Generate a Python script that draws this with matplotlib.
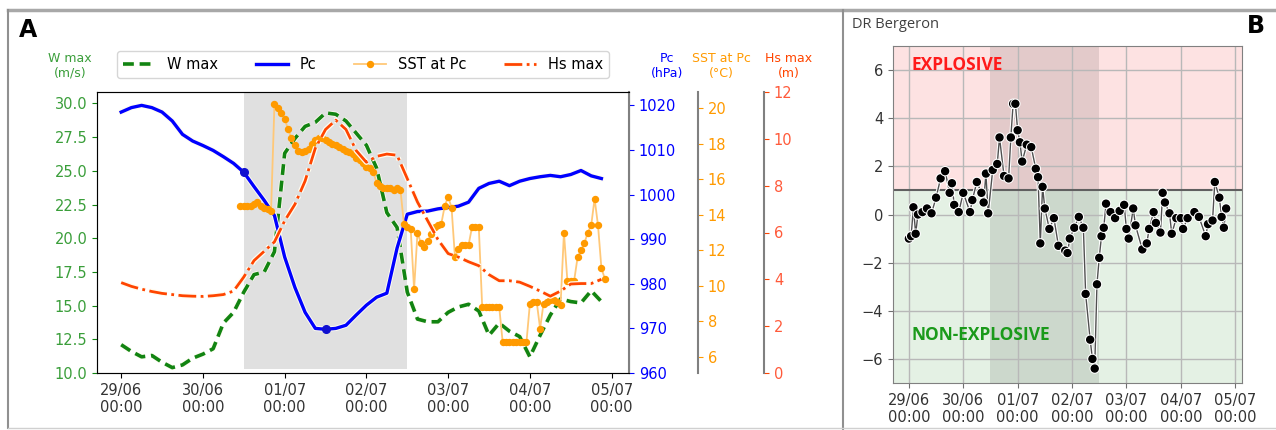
import numpy as np
import pandas as pd
import matplotlib
matplotlib.use("Agg")
import matplotlib.pyplot as plt
import matplotlib.dates as mdates
import matplotlib.patheffects as pe
from matplotlib.lines import Line2D

t0 = pd.Timestamp("2021-06-29 00:00")

# panel A: 3-hourly series, hours since 29/06 00:00
hours_3h = np.arange(0, 142, 3)
w_max = [12.1, 11.6, 11.2, 11.3, 10.8, 10.4, 10.6, 11.1, 11.4, 11.8,
         13.7, 14.5, 16.0, 17.3, 17.5, 19.0, 26.3, 27.4, 28.3, 28.6,
         29.3, 29.2, 28.7, 27.8, 26.9, 25.2, 21.9, 20.8, 16.0, 14.0,
         13.8, 13.8, 14.5, 14.9, 15.1, 14.6, 12.8, 13.7, 13.1, 12.7,
         11.2, 12.8, 14.3, 15.5, 15.3, 15.2, 16.1, 15.3]
pc = [1018.5, 1019.5, 1020.0, 1019.5, 1018.5, 1016.5, 1013.5, 1012.0, 1011.0, 1009.9,
      1008.5, 1007.0, 1005.0, 1001.8, 998.7, 995.3, 986.0, 979.2, 973.6, 970.0,
      969.8, 970.0, 970.7, 973.0, 975.2, 977.0, 977.9, 988.0, 995.6, 996.2,
      996.3, 996.8, 997.1, 997.4, 998.3, 1001.4, 1002.5, 1003.0, 1002.0, 1003.0,
      1003.6, 1004.0, 1004.3, 1004.0, 1004.5, 1005.4, 1004.2, 1003.6]
hs_max = [3.86, 3.7, 3.58, 3.48, 3.4, 3.35, 3.3, 3.28, 3.27, 3.3,
          3.35, 3.5, 4.1, 4.8, 5.2, 5.6, 6.5, 7.2, 8.2, 9.6,
          10.4, 10.8, 10.4, 9.5, 9.0, 9.25, 9.35, 9.3, 8.3, 7.3,
          6.5, 5.7, 5.1, 4.95, 4.75, 4.58, 4.2, 3.94, 3.94, 3.88,
          3.7, 3.5, 3.28, 3.5, 3.8, 3.82, 3.82, 4.0]
pc_marked = [12, 20]  # indices of the highlighted Pc points

# SST at Pc, hourly from hour 35 to 142
hours_sst = np.arange(35, 143)
sst = [14.5, 14.5, 14.5, 14.5, 14.6, 14.7, 14.5, 14.4, 14.3, 14.2,
       20.2, 20.0, 19.7, 19.4, 18.8, 18.3, 17.9, 17.6, 17.5, 17.6,
       17.7, 18.0, 18.2, 18.3, 18.3, 18.2, 18.1, 18.0, 17.9, 17.8,
       17.7, 17.6, 17.5, 17.4, 17.2, 17.1, 16.9, 16.7, 16.6, 16.4,
       15.8, 15.6, 15.5, 15.5, 15.5, 15.4, 15.5, 15.4, 13.5, 13.3,
       13.2, 9.8, 13.0, 12.4, 12.2, 12.5, 12.9, 13.3, 13.4, 13.5,
       14.5, 15.0, 14.4, 11.6, 12.1, 12.3, 12.3, 12.3, 13.3, 13.3,
       13.3, 8.8, 8.8, 8.8, 8.8, 8.8, 8.8, 6.85, 6.85, 6.85,
       6.85, 6.85, 6.85, 6.85, 6.85, 9.0, 9.1, 9.1, 7.6, 9.0,
       9.1, 9.2, 9.2, 9.1, 8.9, 13.0, 10.3, 10.3, 10.3, 11.6,
       12.0, 12.4, 13.0, 13.4, 14.9, 13.4, 11.0, 10.4]

# panel B: DR Bergeron
hours_dr = [0, 1, 2, 3, 4, 6, 8, 10, 12, 14, 16, 18, 19, 20, 22, 24, 27, 28, 30, 32,
            33, 34, 35, 37, 39, 40, 42, 44, 45, 46, 47, 48, 49, 50, 52, 54, 56, 57, 58, 59,
            60, 62, 64, 66, 69, 70, 71, 73, 75, 77, 78, 80, 81, 82, 83, 84, 85, 86, 87, 89,
            91, 93, 95, 96, 97, 99, 100, 103, 105, 106, 108, 109, 111, 112, 113, 115, 116, 118, 120, 121,
            123, 126, 128, 131, 132, 134, 135, 137, 138, 139, 140]
dr = [-1.0, -0.9, 0.3, -0.8, 0.0, 0.1, 0.25, 0.05, 0.7, 1.5, 1.8, 0.9, 1.3, 0.4, 0.1, 0.9, 0.1, 0.6, 1.35, 0.9,
      0.5, 1.7, 0.05, 1.85, 2.1, 3.2, 1.6, 1.5, 3.2, 4.6, 4.6, 3.5, 3.0, 2.2, 2.9, 2.8, 1.9, 1.55, -1.2, 1.15,
      0.25, -0.6, -0.15, -1.3, -1.5, -1.6, -1.0, -0.55, -0.1, -0.55, -3.3, -5.2, -6.0, -6.4, -2.9, -1.8, -0.9, -0.55, 0.45, 0.1,
      -0.15, 0.15, 0.4, -0.6, -1.0, 0.25, -0.45, -1.45, -1.2, -0.6, 0.1, -0.35, -0.75, 0.9, 0.5, 0.05, -0.8, -0.15, -0.15, -0.6,
      -0.15, 0.1, -0.1, -0.9, -0.4, -0.25, 1.35, 0.7, -0.1, -0.55, 0.25]

t3 = t0 + pd.to_timedelta(hours_3h, unit="h")
ts = t0 + pd.to_timedelta(hours_sst, unit="h")
tb = t0 + pd.to_timedelta(hours_dr, unit="h")
span0 = t0 + pd.Timedelta(hours=36)
span1 = t0 + pd.Timedelta(hours=84)

W, H = 1276, 430
fig = plt.figure(figsize=(W / 100, H / 100), dpi=100)

c_w = "#128412"
c_w_txt = "#3a9e3a"
c_pc = "#0000ff"
c_sst = "#ff9a00"
c_hs = "#ff4500"
halo = [pe.withStroke(linewidth=3.8, foreground="#fffdf0")]

# ---------- panel A ----------
ax = fig.add_axes([97 / W, 1 - 373 / H, 532 / W, 281 / H])
ax2 = ax.twinx()
ax3 = ax.twinx()
ax4 = ax.twinx()

ax.axvspan(span0, span1, ymin=0.015, color="#e0e0e0", zorder=0, lw=0)

l_w, = ax.plot(t3, w_max, color=c_w, lw=2.6, ls=(0, (3, 1.6)), path_effects=halo, label="W max")
l_pc, = ax2.plot(t3, pc, color=c_pc, lw=2.4, path_effects=halo, label="Pc")
ax2.plot(t3[pc_marked], np.array(pc)[pc_marked], ls="none", marker="o", ms=5.5, color="#1010d0")
l_sst, = ax3.plot(ts, sst, color="#ffc878", lw=1.3, marker="o", ms=4.3,
                  mfc=c_sst, mec=c_sst, label="SST at Pc")
l_hs, = ax4.plot(t3, hs_max, color=c_hs, lw=2, ls="-.", path_effects=halo, label="Hs max")

ax.set_ylim(10, 30.85)
ax.set_yticks(np.arange(10, 30.1, 2.5))
ax.yaxis.set_major_formatter(matplotlib.ticker.FormatStrFormatter("%.1f"))
ax2.set_ylim(960, 1023)
ax2.set_yticks(np.arange(960, 1021, 10))
ax3.set_ylim(5.1, 20.9)
ax3.set_yticks(np.arange(6, 21, 2))
ax4.set_ylim(0, 12)
ax4.set_yticks(np.arange(0, 13, 2))

for a, off in ((ax3, 1.13), (ax4, 1.254)):
    a.spines["right"].set_position(("axes", off))
    for s in ("top", "left", "bottom"):
        a.spines[s].set_visible(False)
    a.patch.set_visible(False)

for s in ax.spines.values():
    s.set_color("#707070")
for a in (ax2, ax3, ax4):
    a.spines["right"].set_color("#808080")
    a.spines["right"].set_linewidth(1.5)

ax.tick_params(axis="y", colors=c_w, labelcolor=c_w_txt, labelsize=10.5)
ax2.tick_params(axis="y", colors=c_pc, labelcolor=c_pc, labelsize=10.5)
ax3.tick_params(axis="y", colors=c_sst, labelcolor=c_sst, labelsize=10.5)
ax4.tick_params(axis="y", colors=c_hs, labelcolor="#ff5a3a", labelsize=10.5)
ax.tick_params(axis="x", labelsize=10.5, labelcolor="#333333")

ax.xaxis.set_major_locator(mdates.DayLocator())
ax.xaxis.set_major_formatter(mdates.DateFormatter("%d/%m\n%H:%M"))

ax4.legend([l_w, l_pc, l_sst, l_hs], ["W max", "Pc", "SST at Pc", "Hs max"],
           ncol=4, loc="lower center", bbox_to_anchor=(0.5, 1.05), fontsize=10.5,
           columnspacing=2.6, handlelength=2.2, borderaxespad=0)

fig.text(70 / W, 1 - 66 / H, "W max\n(m/s)", color=c_w_txt, fontsize=9, ha="center", va="center")
fig.text(667 / W, 1 - 66 / H, "Pc\n(hPa)", color=c_pc, fontsize=9, ha="center", va="center")
fig.text(721 / W, 1 - 66 / H, "SST at Pc\n(°C)", color=c_sst, fontsize=9, ha="center", va="center")
fig.text(789 / W, 1 - 66 / H, "Hs max\n(m)", color=c_hs, fontsize=9, ha="center", va="center")
fig.text(28 / W, 1 - 30 / H, "A", fontsize=17, weight="bold", ha="center", va="center")

# ---------- panel B ----------
bx = fig.add_axes([893 / W, 1 - 383 / H, 349 / W, 337 / H])
bx.axhspan(1, 7, color="#fde2e2", zorder=0, lw=0)
bx.axhspan(-7, 1, color="#e4f1e4", zorder=0, lw=0)
bx.axvspan(span0, span1, color="black", alpha=0.1, zorder=0.5, lw=0)
bx.axhline(1, color="#606060", lw=1.5, zorder=1)
bx.grid(True, color="#b8b8b8", lw=1, zorder=0.8)
bx.set_axisbelow(True)
bx.plot(tb, dr, color="#505050", lw=1, marker="o", ms=5, mfc="black", mec="black",
        path_effects=[pe.withStroke(linewidth=2.5, foreground="white")], zorder=3)
bx.set_ylim(-7, 7)
bx.set_yticks(np.arange(-6, 7, 2))
bx.xaxis.set_major_locator(mdates.DayLocator())
bx.xaxis.set_major_formatter(mdates.DateFormatter("%d/%m\n%H:%M"))
bx.tick_params(labelsize=10.5, labelcolor="#333333", color="#707070")
for s in bx.spines.values():
    s.set_color("#808080")

bx.text(t0 + pd.Timedelta(hours=1), 6.2, "EXPLOSIVE", color="#ff1a1a", fontsize=12.5,
        family="Open Sans", weight="bold", va="center")
bx.text(t0 + pd.Timedelta(hours=1), -5.0, "NON-EXPLOSIVE", color="#1a9a1a", fontsize=12.5,
        family="Open Sans", weight="bold", va="center")

fig.text(852 / W, 1 - 25 / H, "DR Bergeron", color="#404040", fontsize=10.5,
         family="Open Sans", va="center")
fig.text(1256 / W, 1 - 26 / H, "B", fontsize=17, weight="bold", ha="center", va="center")

# panel frames
fc = "#a8a8a8"
fig.add_artist(Line2D([8 / W, 1], [1 - 10 / H, 1 - 10 / H], transform=fig.transFigure, color=fc, lw=2.5))
fig.add_artist(Line2D([8 / W, 8 / W], [1 - 10 / H, 1 - 428 / H], transform=fig.transFigure, color="#909090", lw=1.5))
fig.add_artist(Line2D([843 / W, 843 / W], [1 - 10 / H, 0], transform=fig.transFigure, color="#909090", lw=1.5))
fig.add_artist(Line2D([8 / W, 1], [1 - 428 / H, 1 - 428 / H], transform=fig.transFigure, color="#d0d0d0", lw=1))

fig.savefig("out.png", dpi=100)
